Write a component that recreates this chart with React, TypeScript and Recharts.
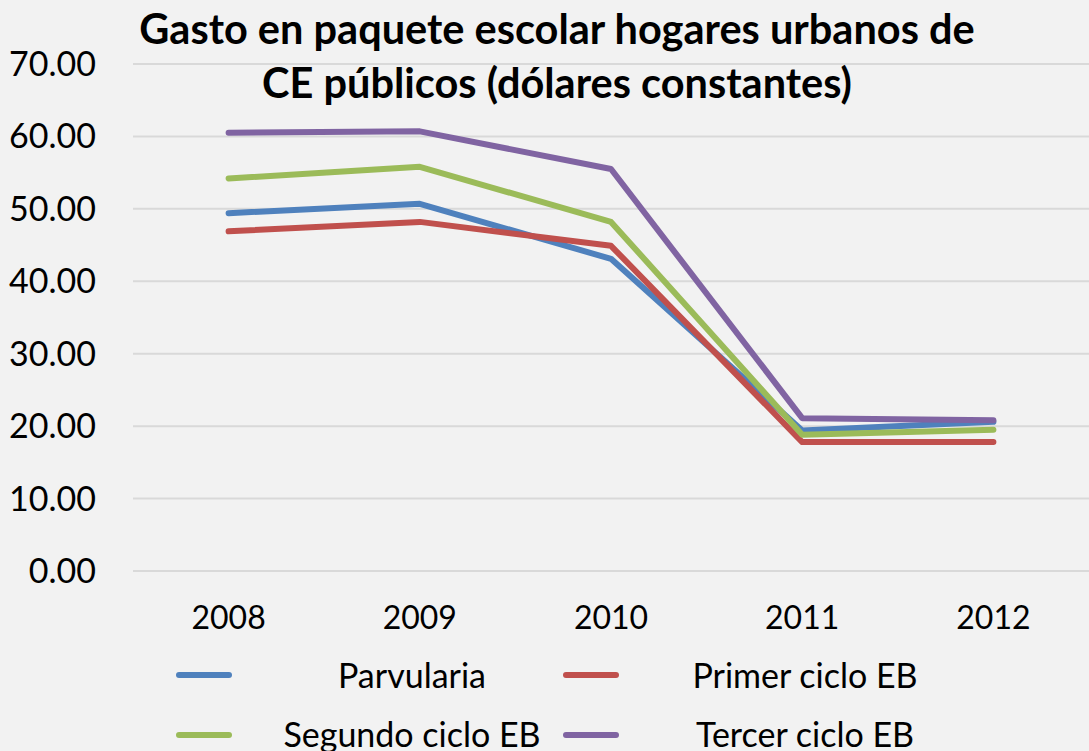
import React from 'react';
import { LineChart, Line, XAxis, YAxis, CartesianGrid, Legend } from 'recharts';

const FONT = 'Lato, "Open Sans", sans-serif';

const years = ['2008', '2009', '2010', '2011', '2012'];
const parvularia = [49.4, 50.7, 43.1, 19.4, 20.6];
const primerCiclo = [46.9, 48.2, 44.9, 17.8, 17.8];
const segundoCiclo = [54.2, 55.8, 48.2, 18.8, 19.5];
const tercerCiclo = [60.5, 60.7, 55.5, 21.1, 20.8];
const yTicks = [0, 10, 20, 30, 40, 50, 60, 70];

const seriesNames = ['Parvularia', 'Primer ciclo EB', 'Segundo ciclo EB', 'Tercer ciclo EB'];
const seriesKeys = ['parvularia', 'primer', 'segundo', 'tercer'];
const seriesColors = ['#4F81BD', '#C0504D', '#9BBB59', '#8064A2'];

const data = years.map((y, i) => ({
  year: y,
  parvularia: parvularia[i],
  primer: primerCiclo[i],
  segundo: segundoCiclo[i],
  tercer: tercerCiclo[i],
}));

const renderLegend = (props: any) => {
  const payload = props.payload || [];
  return (
    <div style={{ position: 'relative', width: 1089, height: 111, fontFamily: FONT, fontSize: 34, color: '#000' }}>
      {payload.map((p: any, i: number) => {
        const col = i % 2;
        const row = Math.floor(i / 2);
        const iconLeft = col === 0 ? 176 : 563;
        const textCenter = col === 0 ? 412 : 805;
        const cy = row === 0 ? 35 : 94;
        return (
          <React.Fragment key={i}>
            <div
              style={{
                position: 'absolute',
                left: iconLeft,
                top: (row === 0 ? 35 : 95) - 3,
                width: 56,
                height: 6,
                borderRadius: 3,
                background: p.color,
              }}
            />
            <div
              style={{
                position: 'absolute',
                left: textCenter - 200,
                width: 400,
                top: cy - 20,
                height: 40,
                lineHeight: '40px',
                textAlign: 'center',
                whiteSpace: 'nowrap',
              }}
            >
              {p.value}
            </div>
          </React.Fragment>
        );
      })}
    </div>
  );
};

export default function App() {
  return (
    <div style={{ position: 'fixed', left: 0, top: 0, width: 1089, height: 751, background: '#F2F2F2', overflow: 'hidden' }}>
      <LineChart
        width={1089}
        height={751}
        data={data}
        margin={{ top: 64, right: 0, bottom: 0, left: 0 }}
        style={{ background: '#F2F2F2' }}
      >
        <CartesianGrid vertical={false} stroke="#D9D9D9" strokeWidth={2} />
        <XAxis
          dataKey="year"
          height={180}
          axisLine={false}
          tickLine={false}
          tickSize={0}
          tickMargin={35}
          padding={{ left: 95.6, right: 95.6 }}
          tick={{ fill: '#000', fontSize: 32, fontFamily: FONT }}
        />
        <YAxis
          width={133}
          domain={[0, 70]}
          ticks={yTicks}
          axisLine={false}
          tickLine={false}
          tickSize={0}
          tickMargin={37}
          tickFormatter={(v: number) => v.toFixed(2)}
          tick={{ fill: '#000', fontSize: 34, fontFamily: FONT }}
        />
        <Legend
          verticalAlign="middle"
          align="center"
          layout="horizontal"
          content={renderLegend}
          wrapperStyle={{ position: 'absolute', left: 0, top: 640, width: 1089, height: 111 }}
        />
        {seriesKeys.map((k, i) => (
          <Line
            key={k}
            type="linear"
            dataKey={k}
            name={seriesNames[i]}
            stroke={seriesColors[i]}
            strokeWidth={6}
            strokeLinecap="round"
            strokeLinejoin="round"
            dot={false}
            activeDot={false}
            isAnimationActive={false}
          />
        ))}
      </LineChart>
      <div
        style={{
          position: 'absolute',
          left: 557 - 480,
          width: 960,
          top: 1,
          textAlign: 'center',
          fontFamily: FONT,
          fontWeight: 700,
          fontSize: 41.5,
          lineHeight: '54px',
          color: '#000',
        }}
      >
        Gasto en paquete escolar hogares urbanos de
        <br />
        CE públicos (dólares constantes)
      </div>
    </div>
  );
}
